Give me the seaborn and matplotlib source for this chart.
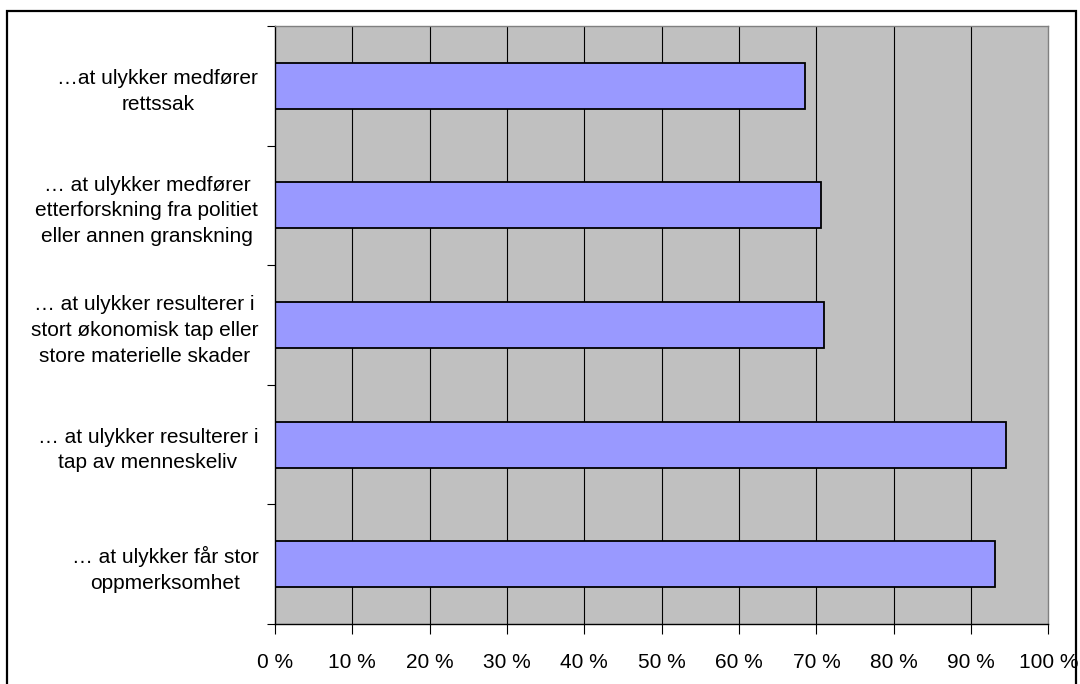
# Holdninger til ulykker - liggende stolpediagram
import numpy as np
import pandas as pd
import matplotlib
matplotlib.use('Agg')
import matplotlib.pyplot as plt
import matplotlib.patches as patches
from matplotlib.ticker import FixedLocator
import seaborn as sns

# Data
kategorier = [
    "…at ulykker medfører\nrettssak",
    "… at ulykker medfører\netterforskning fra politiet\neller annen granskning",
    "… at ulykker resulterer i\nstort økonomisk tap eller\nstore materielle skader",
    "… at ulykker resulterer i\ntap av menneskeliv",
    "… at ulykker får stor\noppmerksomhet",
]
andel = [68.5, 70.6, 71.0, 94.5, 93.1]
x_ticks = [0, 10, 20, 30, 40, 50, 60, 70, 80, 90, 100]


def main():
    sns.set_style('white')
    plt.rcParams['font.family'] = ['Liberation Sans', 'DejaVu Sans']
    plt.rcParams['text.color'] = 'black'
    plt.rcParams['xtick.color'] = 'black'
    plt.rcParams['ytick.color'] = 'black'

    df = pd.DataFrame({'kategori': kategorier, 'andel': andel})

    fig = plt.figure(figsize=(10.8, 6.84), dpi=100)
    ax = fig.add_axes([0.2546, 0.0877, 0.9708 - 0.2546, 0.962 - 0.0877])
    ax.set_facecolor('#C0C0C0')

    # vertikale rutenett bak stolpene
    for v in x_ticks[1:-1]:
        ax.axvline(v, color='black', lw=0.8, zorder=0)

    sns.barplot(data=df, x='andel', y='kategori', orient='h', ax=ax,
                color='#9999FF', saturation=1, width=0.385,
                edgecolor='black', linewidth=1.3, zorder=2)

    ax.set_xlim(0, 100)
    ax.set_ylim(len(kategorier) - 0.5, -0.5)
    ax.set_xticks(x_ticks)
    ax.set_xticklabels([f'{t} %' for t in x_ticks])
    ax.set_xlabel('')
    ax.set_ylabel('')

    # kategorinavn midtstilt, tick-streker mellom kategoriene
    ax.tick_params(axis='y', which='major', length=0, pad=12, labelsize=15)
    for lab in ax.get_yticklabels():
        lab.set_multialignment('center')
        lab.set_linespacing(1.45)
        lab.set_color('black')
    ax.yaxis.set_minor_locator(FixedLocator(np.arange(-0.5, len(kategorier), 1)))
    ax.tick_params(axis='y', which='minor', left=True, length=6, width=0.8,
                   color='black', direction='out')
    ax.tick_params(axis='x', which='major', bottom=True, length=7, width=0.8,
                   color='black', labelcolor='black', direction='out',
                   pad=14, labelsize=15)

    # rammer rundt plottområdet
    for side in ['top', 'right']:
        ax.spines[side].set_color('#808080')
        ax.spines[side].set_linewidth(1.0)
    for side in ['left', 'bottom']:
        ax.spines[side].set_color('black')
        ax.spines[side].set_linewidth(1.0)

    # ytre ramme rundt hele diagrammet
    ramme = patches.Rectangle((7 / 1080, -0.05), (1076 - 7) / 1080, 1.05 - 11 / 684,
                              transform=fig.transFigure, fill=False,
                              edgecolor='black', lw=1.6, clip_on=False)
    fig.patches.append(ramme)

    fig.savefig('out.png', dpi=100, facecolor='white')


if __name__ == "__main__":
    main()
